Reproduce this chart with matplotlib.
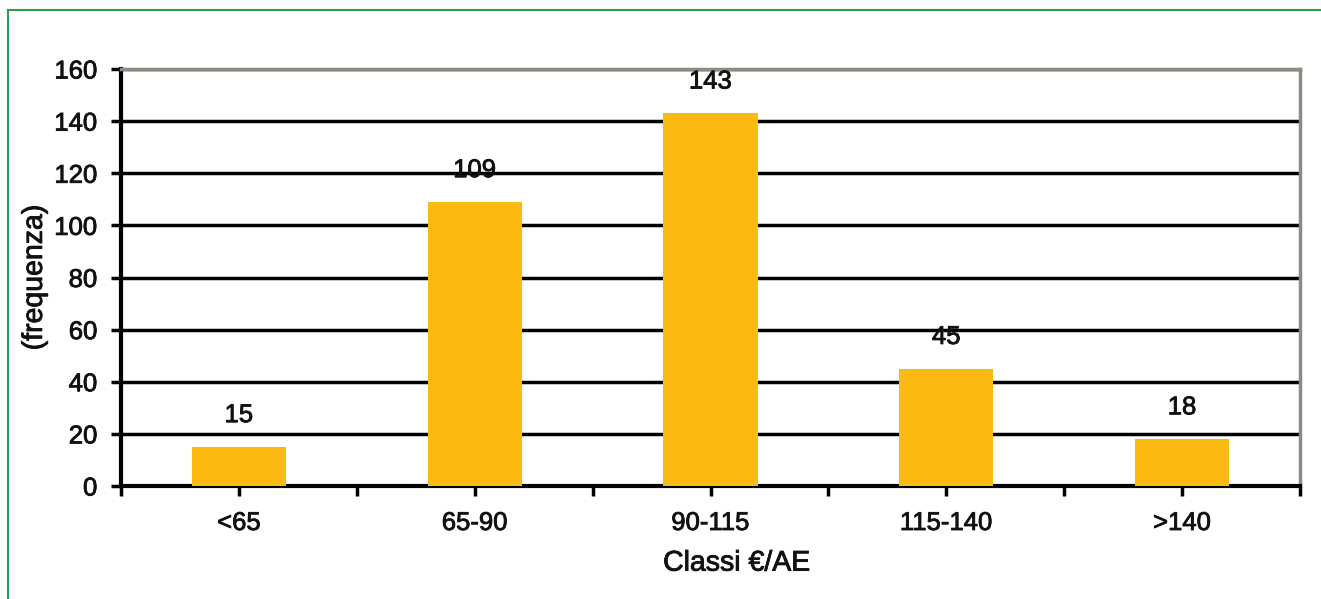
import numpy as np
import matplotlib.pyplot as plt
import matplotlib.patheffects as pe
from matplotlib.lines import Line2D

plt.rcParams['font.family'] = ['Liberation Sans', 'DejaVu Sans']

# Data
classes = ['<65', '65-90', '90-115', '115-140', '>140']
freq = [15, 109, 143, 45, 18]

# slight stroke to mimic the heavier text of the original
heavy = [pe.withStroke(linewidth=0.6, foreground='#111111')]

fig = plt.figure(figsize=(13.21, 5.99), dpi=100)
ax = fig.add_axes([121 / 1321, 1 - 486 / 599, 1179 / 1321, 417 / 599])

x = np.arange(len(classes))
ax.bar(x, freq, width=0.4, color='#fbba12', zorder=3)

# value labels above bars
for xi, v in zip(x, freq):
    ax.text(xi, v + 9.5, str(v), ha='center', va='baseline', fontsize=18.5,
            color='#111111', zorder=4, path_effects=heavy)

ax.set_xlim(-0.5, len(classes) - 0.5)
ax.set_ylim(0, 160)
ax.set_yticks(np.arange(0, 161, 20))
ax.set_xticks(x)
ax.set_xticklabels(classes)
ax.set_xticks(np.arange(-0.5, len(classes), 1), minor=True)

ax.yaxis.grid(True, color='black', linewidth=2.5, zorder=1)
ax.set_axisbelow(True)

for side in ['left', 'bottom']:
    ax.spines[side].set_color('black')
    ax.spines[side].set_linewidth(3)
for side in ['top', 'right']:
    ax.spines[side].set_color('#8a8d80')
    ax.spines[side].set_linewidth(2.5)

ax.tick_params(axis='both', which='both', direction='out', width=2.5, color='black',
               labelsize=18.5, labelcolor='#111111')
ax.tick_params(axis='y', length=7, pad=10)
ax.tick_params(axis='x', which='both', length=7, pad=11)
for lbl in ax.get_xticklabels() + ax.get_yticklabels():
    lbl.set_path_effects(heavy)

ax.set_ylabel('(frequenza)', fontsize=20.5, color='#111111', path_effects=heavy)
ax.yaxis.set_label_coords(-0.062, 0.5)
ax.set_xlabel('Classi €/AE', fontsize=20.5, color='#111111', path_effects=heavy)
ax.xaxis.set_label_coords(0.522, -0.155)

# green frame at the left and top of the figure
fig.add_artist(Line2D([8 / 1321, 8 / 1321], [0, 1 - 10 / 599], color='#2e9e50',
                      linewidth=1.5, transform=fig.transFigure))
fig.add_artist(Line2D([8 / 1321, 1], [1 - 10 / 599, 1 - 10 / 599], color='#2e9e50',
                      linewidth=1.5, transform=fig.transFigure))

fig.savefig('out.png', dpi=100)
